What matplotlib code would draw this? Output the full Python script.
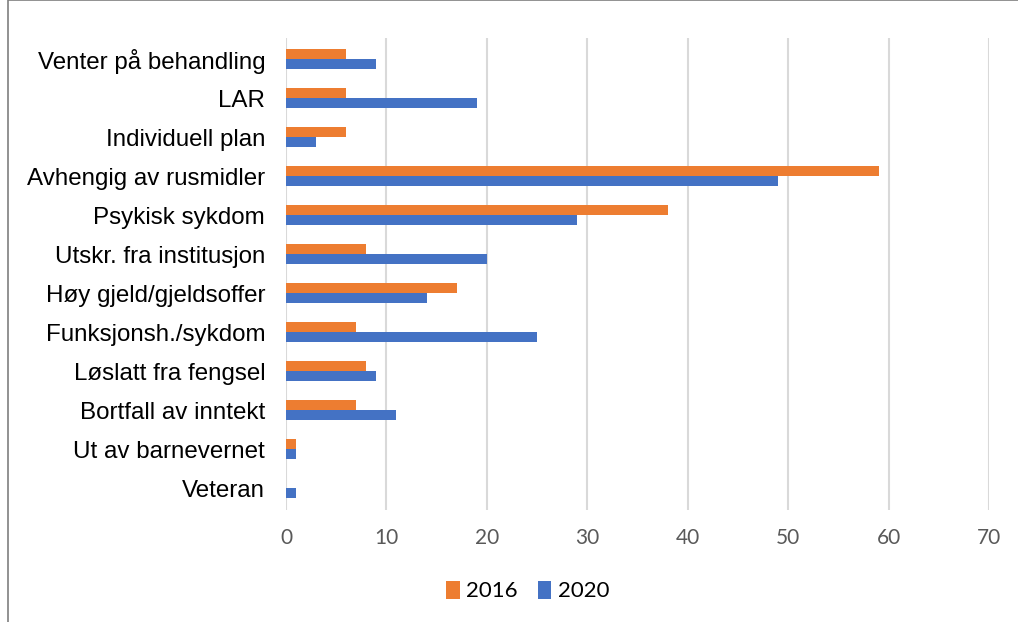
import numpy as np
import matplotlib.pyplot as plt
import matplotlib.patches as patches

categories = ['Venter på behandling', 'LAR', 'Individuell plan', 'Avhengig av rusmidler',
              'Psykisk sykdom', 'Utskr. fra institusjon', 'Høy gjeld/gjeldsoffer',
              'Funksjonsh./sykdom', 'Løslatt fra fengsel', 'Bortfall av inntekt',
              'Ut av barnevernet', 'Veteran']
v2016 = [6, 6, 6, 59, 38, 8, 17, 7, 8, 7, 1, 0]
v2020 = [9, 19, 3, 49, 29, 20, 14, 25, 9, 11, 1, 1]
xticks = [0, 10, 20, 30, 40, 50, 60, 70]

orange = '#ed7d31'
blue = '#4472c4'

fig = plt.figure(figsize=(10.18, 6.22), dpi=100)
ax = fig.add_axes([286 / 1018, 1 - 510 / 622, (989 - 286) / 1018, (510 - 38) / 622])

y = np.arange(len(categories))
h = 0.26
ax.barh(y - h / 2, v2016, height=h, color=orange, label='2016', zorder=3)
ax.barh(y + h / 2, v2020, height=h, color=blue, label='2020', zorder=3)

ax.set_xlim(0, 70)
ax.set_ylim(11.56, -0.54)
ax.set_xticks(xticks)
ax.set_yticks(y)
ax.set_yticklabels(categories, fontsize=17.4, family='Liberation Sans', color='black')
ax.tick_params(axis='x', labelsize=15, labelcolor='#595959', length=0, pad=13)
ax.tick_params(axis='y', length=0, pad=15)
for lbl in ax.get_xticklabels():
    lbl.set_family('Lato')
ax.grid(axis='x', color='#d9d9d9', lw=1.5, zorder=0)
for s in ax.spines.values():
    s.set_visible(False)

leg = fig.legend(loc='center', bbox_to_anchor=(528 / 1018, 1 - 591 / 622), ncol=2, frameon=False,
                 prop={'family': 'Lato', 'size': 16},
                 handlelength=0.6, handleheight=0.9, handletextpad=0.3, columnspacing=0.9)

fig.patches.append(patches.Rectangle((8 / 1018, -0.01), 1.02, 1.01, transform=fig.transFigure,
                                     fill=False, edgecolor='#7f7f7f', lw=1.2))

fig.savefig('out.png', dpi=100)
